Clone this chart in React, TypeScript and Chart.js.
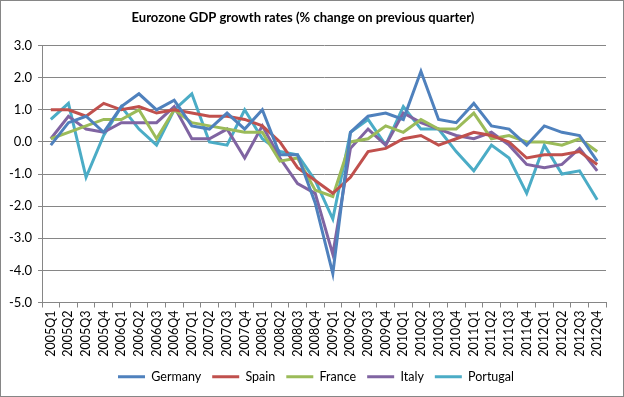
import React, { useEffect, useRef } from "react";
import { Chart, registerables } from "chart.js";

Chart.register(...registerables);

const titleText = "Eurozone GDP growth rates (% change on previous quarter)";

const categories = [
  "2005Q1", "2005Q2", "2005Q3", "2005Q4",
  "2006Q1", "2006Q2", "2006Q3", "2006Q4",
  "2007Q1", "2007Q2", "2007Q3", "2007Q4",
  "2008Q1", "2008Q2", "2008Q3", "2008Q4",
  "2009Q1", "2009Q2", "2009Q3", "2009Q4",
  "2010Q1", "2010Q2", "2010Q3", "2010Q4",
  "2011Q1", "2011Q2", "2011Q3", "2011Q4",
  "2012Q1", "2012Q2", "2012Q3", "2012Q4",
];

const germany = [
  -0.1, 0.6, 0.8, 0.3, 1.1, 1.5, 1.0, 1.3,
  0.5, 0.4, 0.9, 0.4, 1.0, -0.4, -0.4, -1.9,
  -4.1, 0.3, 0.8, 0.9, 0.7, 2.2, 0.7, 0.6,
  1.2, 0.5, 0.4, -0.1, 0.5, 0.3, 0.2, -0.6,
];

const spain = [
  1.0, 1.0, 0.8, 1.2, 1.0, 1.1, 0.9, 1.0,
  0.9, 0.8, 0.8, 0.7, 0.5, 0.0, -0.8, -1.2,
  -1.6, -1.1, -0.3, -0.2, 0.1, 0.2, -0.1, 0.1,
  0.3, 0.2, 0.0, -0.5, -0.4, -0.4, -0.3, -0.7,
];

const france = [
  0.1, 0.3, 0.5, 0.7, 0.7, 1.0, 0.1, 1.0,
  0.6, 0.5, 0.4, 0.3, 0.3, -0.6, -0.5, -1.5,
  -1.7, 0.0, 0.1, 0.5, 0.3, 0.7, 0.4, 0.4,
  0.9, 0.1, 0.2, 0.0, 0.0, -0.1, 0.1, -0.3,
];

const italy = [
  0.1, 0.8, 0.4, 0.3, 0.6, 0.6, 0.6, 1.1,
  0.1, 0.1, 0.4, -0.5, 0.5, -0.5, -1.3, -1.6,
  -3.5, -0.2, 0.4, -0.1, 0.9, 0.6, 0.4, 0.2,
  0.1, 0.3, -0.1, -0.7, -0.8, -0.7, -0.2, -0.9,
];

const portugal = [
  0.7, 1.2, -1.1, 0.2, 1.1, 0.4, -0.1, 1.0,
  1.5, 0.0, -0.1, 1.0, 0.1, -0.3, -0.4, -1.2,
  -2.4, 0.3, 0.7, -0.1, 1.1, 0.4, 0.4, -0.3,
  -0.9, -0.1, -0.5, -1.6, -0.1, -1.0, -0.9, -1.8,
];

const seriesNames = ["Germany", "Spain", "France", "Italy", "Portugal"];
const seriesColors = ["#4F81BD", "#C0504D", "#9BBB59", "#8064A2", "#4BACC6"];
const seriesValues = [germany, spain, france, italy, portugal];

const yMin = -5;
const yMax = 3;
const yStep = 1;

const FONT = "Lato, 'Open Sans', sans-serif";
const GRID = "#868686";

export default function App() {
  const ref = useRef<HTMLCanvasElement | null>(null);

  useEffect(() => {
    if (!ref.current) return;
    const bgPlugin = {
      id: "bgFill",
      afterLayout(chart: any) {
        if (chart.legend) {
          chart.legend.left += 13;
          chart.legend.right += 13;
        }
      },
      beforeDraw(chart: any) {
        const ctx = chart.ctx;
        ctx.save();
        ctx.fillStyle = "#ffffff";
        ctx.fillRect(0, 0, chart.width, chart.height);
        ctx.restore();
      },
      afterDraw(chart: any) {
        const ctx = chart.ctx;
        ctx.save();
        ctx.strokeStyle = GRID;
        ctx.lineWidth = 1;
        ctx.strokeRect(0.5, 0.5, chart.width - 1, chart.height - 1);
        ctx.restore();
      },
    };

    const chart = new Chart(ref.current, {
      type: "line",
      data: {
        labels: categories,
        datasets: seriesNames.map((name, i) => ({
          label: name,
          data: seriesValues[i],
          borderColor: seriesColors[i],
          backgroundColor: seriesColors[i],
          borderWidth: 3,
          pointRadius: 0,
          tension: 0,
          fill: false,
        })),
      },
      options: {
        responsive: false,
        animation: false,
        devicePixelRatio: 1,
        layout: { padding: { left: 0, right: 18, top: 0, bottom: 4 } },
        plugins: {
          title: {
            display: true,
            text: titleText,
            color: "#000000",
            font: { family: FONT, size: 13, weight: "bold" },
            padding: { top: 10, bottom: 20 },
          },
          legend: {
            position: "bottom",
            labels: {
              usePointStyle: true,
              pointStyle: "line",
              pointStyleWidth: 27,
              boxHeight: 3,
              color: "#000000",
              font: { family: FONT, size: 12.5 },
              padding: 11,
            },
          },
          tooltip: { enabled: false },
        },
        scales: {
          x: {
            offset: true,
            grid: {
              offset: true,
              drawOnChartArea: false,
              drawTicks: true,
              tickLength: 5,
              color: GRID,
            },
            border: { display: true, color: GRID },
            ticks: {
              autoSkip: false,
              minRotation: 90,
              maxRotation: 90,
              color: "#000000",
              font: { family: FONT, size: 12.5 },
              padding: 3,
            },
            afterFit(scale: any) {
              scale.height = 57;
            },
          },
          y: {
            min: yMin,
            max: yMax,
            ticks: {
              stepSize: yStep,
              color: "#000000",
              font: { family: FONT, size: 13 },
              padding: 6,
              callback: (v: any) => Number(v).toFixed(1),
            },
            grid: { color: GRID, tickLength: 4 },
            border: { display: true, color: GRID },
            afterFit(scale: any) {
              scale.width = 42;
            },
          },
        },
      },
      plugins: [bgPlugin],
    } as any);

    return () => chart.destroy();
  }, []);

  return (
    <div style={{ position: "fixed", left: 0, top: 0, width: 624, height: 397 }}>
      <canvas ref={ref} width={624} height={397} style={{ display: "block" }} />
    </div>
  );
}
